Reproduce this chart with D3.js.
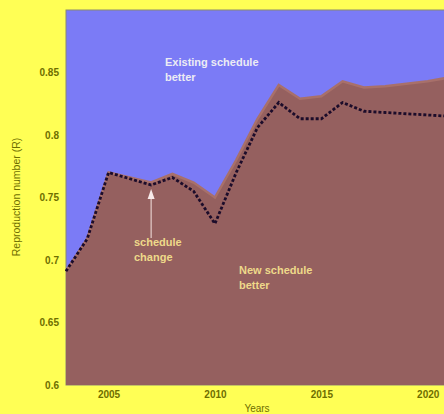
<!DOCTYPE html>
<html><head><meta charset="utf-8">
<script src="https://cdn.jsdelivr.net/npm/d3@7"></script>
<style>html,body{margin:0;padding:0;background:#ffff55;overflow:hidden}</style>
</head><body>
<script>
const years = [2003,2004,2005,2006,2007,2008,2009,2010,2011,2012,2013,2014,2015,2016,2017,2018,2019,2020,2021];
const existingR = [0.691,0.717,0.770,0.766,0.762,0.769,0.762,0.750,0.780,0.813,0.840,0.829,0.831,0.843,0.838,0.839,0.841,0.843,0.846];
const newR      = [0.691,0.717,0.770,0.765,0.760,0.766,0.755,0.729,0.770,0.806,0.826,0.813,0.813,0.826,0.819,0.818,0.817,0.816,0.815];
const yTicks = [0.6,0.65,0.7,0.75,0.8,0.85];
const xTicks = [2005,2010,2015,2020];

const W=444,H=414;
const svg=d3.select("body").append("svg").attr("width",W).attr("height",H);
svg.append("rect").attr("width",W).attr("height",H).attr("fill","#ffff55");
const x=d3.scaleLinear().domain([2003,2021]).range([66,449]);
const y=d3.scaleLinear().domain([0.6,0.9]).range([385,10]);
const data=years.map((yr,i)=>({yr,e:existingR[i],n:newR[i]}));

svg.append("rect").attr("x",66).attr("y",10).attr("width",449-66).attr("height",375)
  .attr("fill","#7b7bf6").attr("stroke","#8a8a70").attr("stroke-width",1);
svg.append("path").datum(data).attr("fill","#95605f")
  .attr("d",d3.area().x(d=>x(d.yr)).y0(y(0.6)).y1(d=>y(d.e)));
svg.append("path").datum(data).attr("fill","none").attr("stroke","#a8706a").attr("stroke-width",2.5)
  .attr("d",d3.line().x(d=>x(d.yr)).y(d=>y(d.e)));
svg.append("path").datum(data).attr("fill","none").attr("stroke","#1c0c2a").attr("stroke-width",2.8)
  .attr("stroke-dasharray","3,2")
  .attr("d",d3.line().x(d=>x(d.yr)).y(d=>y(d.n)));

const ax=svg.append("g").attr("transform","translate(0,385)")
  .call(d3.axisBottom(x).tickValues(xTicks).tickFormat(d3.format("d")).tickSize(0).tickPadding(6));
const ay=svg.append("g").attr("transform","translate(66,0)")
  .call(d3.axisLeft(y).tickValues(yTicks).tickFormat(d=>String(d)).tickSize(0).tickPadding(7));
[ax,ay].forEach(g=>{g.select(".domain").remove();
  g.selectAll("text").attr("fill","#6e6e00").attr("font-family","Liberation Sans, Arial, sans-serif")
   .attr("font-size",10).attr("font-weight","bold");});

svg.append("text").attr("transform","translate(20,197) rotate(-90)").attr("text-anchor","middle")
  .attr("font-family","Liberation Sans, Arial, sans-serif").attr("font-size",10.5).attr("fill","#6e6e00")
  .text("Reproduction number (R)");
svg.append("text").attr("x",257).attr("y",412).attr("text-anchor","middle")
  .attr("font-family","Liberation Sans, Arial, sans-serif").attr("font-size",10).attr("fill","#6e6e00")
  .text("Years");

function label(lines,x0,y0,col){
  const t=svg.append("text").attr("font-family","Liberation Sans, Arial, sans-serif").attr("font-size",11)
   .attr("font-weight","bold").attr("fill",col);
  lines.forEach((s,i)=>t.append("tspan").attr("x",x0).attr("y",y0+i*15).text(s));
}
label(["Existing schedule","better"],165,66,"#ececf4");
label(["schedule","change"],134,246,"#eed98a");
label(["New schedule","better"],239,274,"#eed98a");

svg.append("line").attr("x1",x(2007)).attr("x2",x(2007)).attr("y1",238).attr("y2",198)
  .attr("stroke","#f4e4e0").attr("stroke-width",1);
svg.append("path").attr("d",`M${x(2007)-3.5},199 L${x(2007)+3.5},199 L${x(2007)},189 Z`).attr("fill","#f8eaea");
</script>
</body></html>
